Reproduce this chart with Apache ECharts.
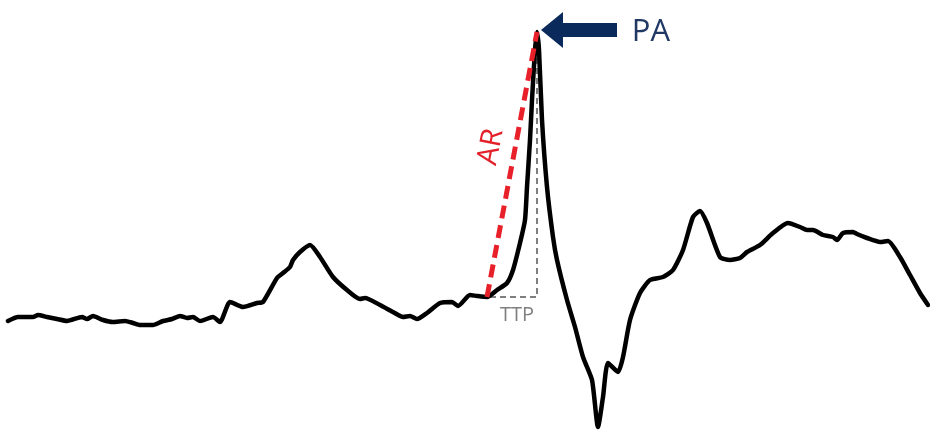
<!DOCTYPE html>
<html>
<head>
<meta charset="utf-8">
<script src="https://cdn.jsdelivr.net/npm/echarts@6/dist/echarts.min.js"></script>
<style>
html, body { margin: 0; padding: 0; background: #fff; }
#ecg { width: 930px; height: 430px; }
</style>
</head>
<body>
<div id="ecg"></div>
<script>
// 波形数据 (x: 采样位置, y: 幅值)
var ecgX = [8, 18, 33, 38, 47, 57, 67, 82, 87, 93, 103, 113, 125, 133, 140, 153, 163, 172, 180, 187,
    193, 200, 213, 220, 230, 243, 257, 263, 277, 283, 290, 293, 300, 310, 320, 333, 347, 360, 365, 380,
    393, 403, 410, 417, 427, 440, 452, 458, 470, 477, 487, 497, 507, 513, 520, 525, 527, 530, 532, 535,
    537, 539, 542, 547, 553, 557, 567, 575, 583, 592, 598, 603, 608, 618, 623, 630, 640, 650, 663, 673,
    683, 693, 700, 707, 720, 730, 740, 747, 760, 773, 788, 800, 807, 813, 823, 833, 837, 843, 853, 857,
    867, 880, 888, 900, 910, 920, 928];
var ecgY = [109, 113, 113, 115, 113, 111, 109, 113, 111, 114, 110, 108, 109, 107, 105, 105, 109, 111, 114, 112,
    113, 109, 113, 108, 128, 123, 127, 128, 152, 157, 163, 170, 178, 185, 173, 153, 140, 131, 132, 125,
    118, 113, 114, 111, 117, 127, 128, 124, 135, 134, 133, 140, 147, 160, 187, 210, 243, 290, 330, 380,
    398, 380, 310, 243, 193, 170, 130, 103, 73, 50, 3, 33, 67, 58, 73, 110, 137, 150, 153, 160,
    180, 213, 219, 207, 173, 170, 172, 178, 185, 197, 207, 203, 200, 200, 195, 193, 190, 197, 198, 196,
    192, 188, 189, 173, 155, 137, 125];

// 上升支 AR: 起点 -> 峰值
var arX = [487, 537];
var arY = [133, 398];
// 达峰时间 TTP
var ttpX = [490, 537, 537];
var ttpY = [133, 133, 390];
// 峰值箭头 PA
var paArrowX = [617, 552];
var paArrowY = [400, 400];

var labels = [
    { name: 'PA', value: [651, 398] },
    { name: 'AR', value: [491, 283] },
    { name: 'TTP', value: [517, 115] }
];

function pairs(xs, ys) {
    return xs.map(function (x, i) { return [x, ys[i]]; });
}

var chart = echarts.init(document.getElementById('ecg'));

var option = {
    animation: false,
    grid: { left: 0, right: 0, top: 0, bottom: 0 },
    xAxis: { type: 'value', min: 0, max: 930, show: false },
    yAxis: { type: 'value', min: 0, max: 430, show: false },
    series: [
        {
            name: 'ttp',
            type: 'line',
            data: pairs(ttpX, ttpY),
            showSymbol: false,
            silent: true,
            lineStyle: { color: '#7f7f7f', width: 2, type: [6, 4] },
            z: 1
        },
        {
            name: 'ecg',
            type: 'line',
            data: pairs(ecgX, ecgY),
            showSymbol: false,
            silent: true,
            smooth: 0.2,
            lineStyle: { color: '#000', width: 4.5, join: 'round', cap: 'round' },
            z: 2
        },
        {
            name: 'ar',
            type: 'line',
            data: pairs(arX, arY),
            showSymbol: false,
            silent: true,
            lineStyle: { color: '#e8202a', width: 5, type: [13, 7] },
            z: 3,
            markLine: {
                silent: true,
                symbol: ['none', 'triangle'],
                symbolSize: [36, 22],
                label: { show: false },
                lineStyle: { color: '#0b2a5c', width: 14, type: 'solid' },
                data: [[
                    { coord: [paArrowX[0], paArrowY[0]] },
                    { coord: [paArrowX[1], paArrowY[1]] }
                ]]
            }
        },
        {
            name: 'labels',
            type: 'scatter',
            symbolSize: 0,
            silent: true,
            itemStyle: { opacity: 1 },
            data: labels.map(function (d) {
                var style = {
                    PA: { color: '#1f3864', fontSize: 31, rotate: 0 },
                    AR: { color: '#e3202a', fontSize: 29, rotate: 79 },
                    TTP: { color: '#7f7f7f', fontSize: 20, rotate: 0 }
                }[d.name];
                return {
                    name: d.name,
                    value: d.value,
                    label: {
                        show: true,
                        position: 'inside',
                        formatter: '{b}',
                        fontFamily: 'Open Sans',
                        color: style.color,
                        opacity: 1,
                        fontSize: style.fontSize,
                        rotate: style.rotate
                    }
                };
            }),
            z: 4
        }
    ]
};

chart.setOption(option);
</script>
</body>
</html>
